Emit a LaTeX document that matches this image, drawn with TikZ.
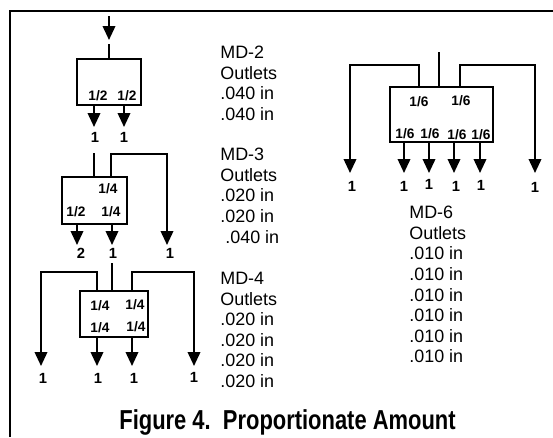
\documentclass[tikz,border=0pt]{standalone}
\usepackage{fontspec}
\setmainfont{Liberation Sans}
\newfontfamily\titlefont[FakeStretch=0.8]{Liberation Sans}
\usetikzlibrary{arrows.meta}
\begin{document}
\begin{tikzpicture}[x=0.02cm, y=-0.02cm,
  valvebox/.style={rectangle, draw, line width=1.2pt, inner sep=0pt},
  frac/.style={font=\fontsize{7.8}{9}\selectfont\bfseries, inner sep=0pt},
  count/.style={font=\fontsize{8.4}{10}\selectfont\bfseries, inner sep=0pt},
  outlets/.style={font=\fontsize{10.2}{11.7}\selectfont, align=left, anchor=north west, inner sep=0pt},
  arr/.style={-{Triangle[length=2.8mm, width=2.5mm]}, line width=1.2pt},
  feed/.style={line width=1.2pt}
]
  \useasboundingbox (0,0) rectangle (553,437);
  \coordinate (frameb) at (10,437);
  \coordinate (framec) at (10,11);
  \coordinate (framer) at (553,11);
  \draw[line width=1.7pt] (frameb) -- (framec) -- (framer);

  % MD-2
  \node[valvebox, minimum width=1.28cm, minimum height=0.92cm] (md2) at (109.2,82.2) {};
  \coordinate (top2a) at (109,16);
  \coordinate (top2b) at (109,40);
  \coordinate (top2c) at (109,44);
  \draw[arr] (top2a) -- (top2b);
  \draw[feed] (top2c) -- (top2c |- md2.north);
  \node[frac] (f2a) at (98,96) {1/2};
  \node[frac] (f2b) at (127,96) {1/2};
  \coordinate (o2a) at (94,127);
  \coordinate (o2b) at (124,127);
  \draw[arr] (o2a |- md2.south) -- (o2a);
  \draw[arr] (o2b |- md2.south) -- (o2b);
  \node[count] (n2a) at (95,137) {1};
  \node[count] (n2b) at (124,137) {1};
  \node[outlets] (t2) at (220,46) {MD-2\\Outlets\\.040 in\\.040 in};

  % MD-3
  \node[valvebox, minimum width=1.3cm, minimum height=0.94cm] (md3) at (94.5,200.5) {};
  \coordinate (in3) at (94,153);
  \coordinate (up3) at (111,154);
  \coordinate (o3a) at (77,245);
  \coordinate (o3b) at (112,245);
  \coordinate (o3c) at (167,245);
  \draw[feed] (in3) -- (in3 |- md3.north);
  \draw[arr] (up3 |- md3.north) -- (up3) -- (up3 -| o3c) -- (o3c);
  \draw[arr] (o3a |- md3.south) -- (o3a);
  \draw[arr] (o3b |- md3.south) -- (o3b);
  \node[frac] (f3a) at (108,189) {1/4};
  \node[frac] (f3b) at (76,212) {1/2};
  \node[frac] (f3c) at (111,212) {1/4};
  \node[count] (n3a) at (81,253) {2};
  \node[count] (n3b) at (113,253) {1};
  \node[count] (n3c) at (170,253) {1};
  \node[outlets] (t3) at (220,148) {MD-3\\Outlets\\.020 in\\.020 in\\\hspace*{0.1cm}.040 in};

  % MD-4
  \node[valvebox, minimum width=1.36cm, minimum height=0.92cm] (md4) at (114,314) {};
  \coordinate (in4) at (112,263);
  \coordinate (l4) at (97,272);
  \coordinate (r4) at (132,272);
  \coordinate (o4a) at (41,366);
  \coordinate (o4b) at (97,366);
  \coordinate (o4c) at (132,366);
  \coordinate (o4d) at (194,366);
  \draw[feed] (in4) -- (in4 |- md4.north);
  \draw[arr] (l4 |- md4.north) -- (l4) -- (l4 -| o4a) -- (o4a);
  \draw[arr] (r4 |- md4.north) -- (r4) -- (r4 -| o4d) -- (o4d);
  \draw[arr] (o4b |- md4.south) -- (o4b);
  \draw[arr] (o4c |- md4.south) -- (o4c);
  \node[frac] (f4a) at (100,306) {1/4};
  \node[frac] (f4b) at (135,305) {1/4};
  \node[frac] (f4c) at (100,328) {1/4};
  \node[frac] (f4d) at (136,327) {1/4};
  \node[count] (n4a) at (43,378) {1};
  \node[count] (n4b) at (98,378) {1};
  \node[count] (n4c) at (134,378) {1};
  \node[count] (n4d) at (194,377) {1};
  \node[outlets] (t4) at (220,272) {MD-4\\Outlets\\.020 in\\.020 in\\.020 in\\.020 in};

  % MD-6
  \node[valvebox, minimum width=2.06cm, minimum height=1.1cm] (md6) at (441.5,114.5) {};
  \coordinate (in6) at (439,52);
  \coordinate (l6) at (419,65);
  \coordinate (r6) at (460,65);
  \coordinate (o6a) at (350,173);
  \coordinate (o6b) at (404,173);
  \coordinate (o6c) at (429,173);
  \coordinate (o6d) at (454,173);
  \coordinate (o6e) at (480,173);
  \coordinate (o6f) at (535,173);
  \draw[feed] (in6) -- (in6 |- md6.north);
  \draw[arr] (l6 |- md6.north) -- (l6) -- (l6 -| o6a) -- (o6a);
  \draw[arr] (r6 |- md6.north) -- (r6) -- (r6 -| o6f) -- (o6f);
  \draw[arr] (o6b |- md6.south) -- (o6b);
  \draw[arr] (o6c |- md6.south) -- (o6c);
  \draw[arr] (o6d |- md6.south) -- (o6d);
  \draw[arr] (o6e |- md6.south) -- (o6e);
  \node[frac] (f6a) at (419,102) {1/6};
  \node[frac] (f6b) at (461,101) {1/6};
  \node[frac] (f6c) at (405,134) {1/6};
  \node[frac] (f6d) at (430,134) {1/6};
  \node[frac] (f6e) at (457,135) {1/6};
  \node[frac] (f6f) at (481,135) {1/6};
  \node[count] (n6a) at (352,186) {1};
  \node[count] (n6b) at (404,186) {1};
  \node[count] (n6c) at (429,184) {1};
  \node[count] (n6d) at (456,186) {1};
  \node[count] (n6e) at (481,185) {1};
  \node[count] (n6f) at (535,187) {1};
  \node[outlets] (t6) at (409,206) {MD-6\\Outlets\\.010 in\\.010 in\\.010 in\\.010 in\\.010 in\\.010 in};

  \node[font=\fontsize{15.6}{18}\titlefont\bfseries, inner sep=0pt] (caption) at (287.5,422.5) {Figure 4.\ \ Proportionate Amount};
\end{tikzpicture}
\end{document}
